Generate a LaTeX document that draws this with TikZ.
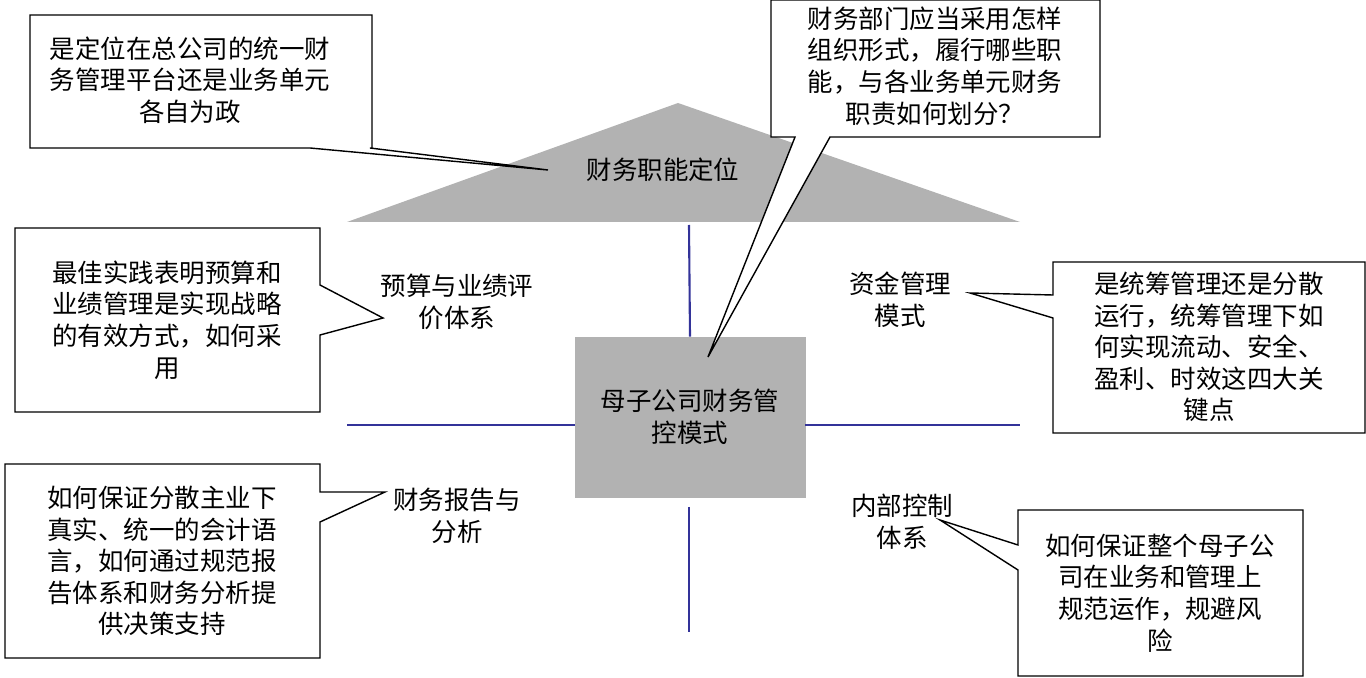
\documentclass[tikz,border=0pt]{standalone}
\usepackage{fontspec}
\newfontfamily\cjk{Noto Sans CJK SC}
\begin{document}
\begin{tikzpicture}[x=0.02cm,y=-0.02cm]
%Define all colors here.
\definecolor{roofgray}{RGB}{178,178,178}
\definecolor{boxgray}{RGB}{178,178,178}
\definecolor{axisblue}{RGB}{51,51,153}
\tikzset{lbl/.style={align=center,font=\cjk\fontsize{14.5}{18}\selectfont},
 callout/.style={draw=black,line width=0.8pt,fill=white},
 axis/.style={draw=axisblue,line width=1.2pt}}
\useasboundingbox (0,0) rectangle (1366,678);

\fill[roofgray] (347,222) -- (678,103) -- (1020,222) -- cycle;
\node(roof) at (663,170) [lbl] {财务职能定位};

\node(hub) at (690,417) [rectangle, draw=gray!60, fill=boxgray, minimum width=4.6cm, minimum height=3.2cm, lbl] {母子公司财务管\\控模式};
\coordinate(hubw) at (575,425);
\coordinate(hube) at (805,425);

\draw[axis] (689,225) -- (hub.north);
\draw[axis] (689,507) -- (689,632);
\draw[axis] (347,425) -- (hubw);
\draw[axis] (hube) -- (1020,425);

\node(budget) at (457,302) [lbl] {预算与业绩评\\价体系};
\node(fund) at (900,300) [lbl] {资金管理\\模式};
\node(report) at (457,516) [lbl] {财务报告与\\分析};
\node(control) at (902,522) [lbl] {内部控制\\体系};

% callouts
\draw[callout] (30,15) -- (372,15) -- (372,148) -- (370,148) -- (548,170) -- (310,148) -- (30,148) -- cycle;
\node(c1) at (190,80) [lbl] {是定位在总公司的统一财\\务管理平台还是业务单元\\各自为政};

\draw[callout] (771,0) -- (1100,0) -- (1100,137) -- (830,137) -- (708,357) -- (795,137) -- (771,137) -- cycle;
\node(c2) at (935,66) [lbl] {财务部门应当采用怎样\\组织形式，履行哪些职\\能，与各业务单元财务\\职责如何划分？};

\draw[callout] (15,228) -- (320,228) -- (320,285) -- (383,318) -- (320,335) -- (320,412) -- (15,412) -- cycle;
\node(c3) at (167,320) [lbl] {最佳实践表明预算和\\业绩管理是实现战略\\的有效方式，如何采\\用};

\draw[callout] (1053,262) -- (1365,262) -- (1365,433) -- (1053,433) -- (1053,318) -- (970,293) -- (1053,295) -- cycle;
\node(c4) at (1209,347) [lbl] {是统筹管理还是分散\\运行，统筹管理下如\\何实现流动、安全、\\盈利、时效这四大关\\键点};

\draw[callout] (5,464) -- (320,464) -- (320,492) -- (385,492) -- (320,522) -- (320,658) -- (5,658) -- cycle;
\node(c5) at (162,561) [lbl] {如何保证分散主业下\\真实、统一的会计语\\言，如何通过规范报\\告体系和财务分析提\\供决策支持};

\draw[callout] (1018,510) -- (1303,510) -- (1303,676) -- (1018,676) -- (1018,570) -- (940,520) -- (1018,545) -- cycle;
\node(c6) at (1160,593) [lbl] {如何保证整个母子公\\司在业务和管理上\\规范运作，规避风\\险};
\end{tikzpicture}
\end{document}
